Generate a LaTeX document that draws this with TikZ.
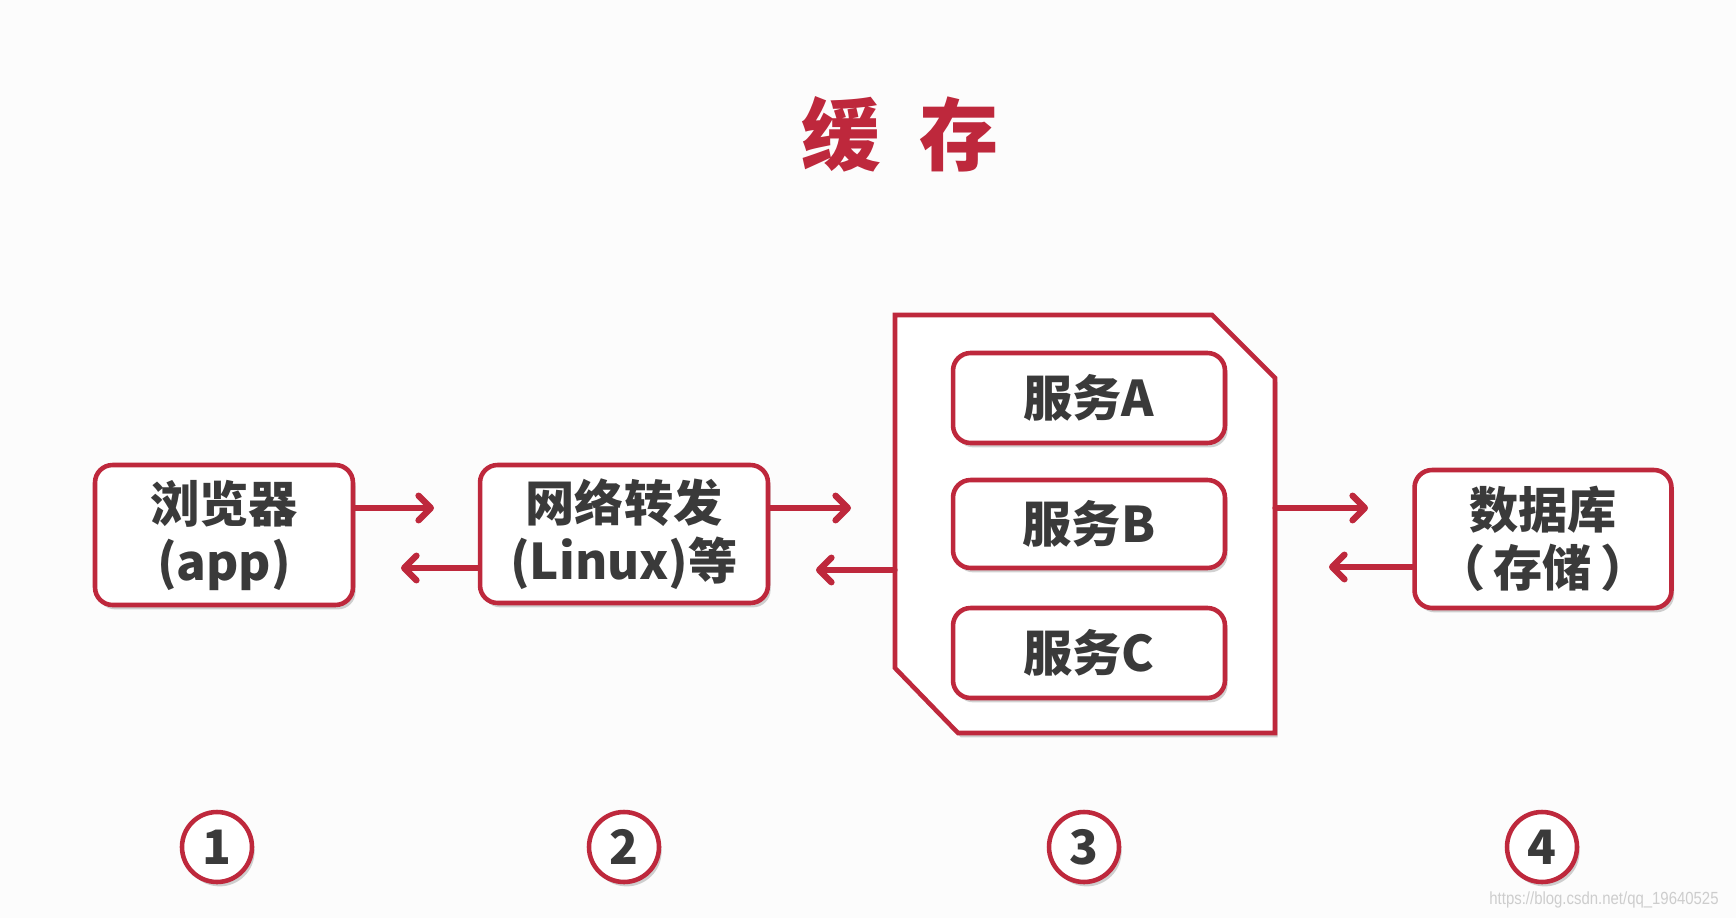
\documentclass[tikz,border=0pt]{standalone}
\usepackage{fontspec}
\newfontfamily\cjk{Noto Sans CJK SC}
\setmainfont{Liberation Sans}
\usetikzlibrary{arrows.meta,shadows}

\definecolor{cacheRed}{RGB}{190,40,60}
\definecolor{inkGray}{RGB}{58,58,58}
\definecolor{pageGray}{RGB}{252,252,252}
\definecolor{wmGray}{RGB}{205,205,205}

\tikzset{
  softshadow/.style={drop shadow={shadow xshift=1.5pt,shadow yshift=-2.5pt,opacity=.18,fill=black}},
  box/.style={draw=cacheRed,line width=2.6pt,rounded corners=10pt,fill=white,softshadow,
    text=inkGray,font=\cjk\bfseries\fontsize{28}{33}\selectfont,align=center,inner sep=0pt},
  numring/.style={circle,draw=cacheRed,line width=2.6pt,fill=white,softshadow,minimum size=1.4cm,
    inner sep=0pt,text=inkGray,font=\cjk\bfseries\fontsize{27}{27}\selectfont},
  arr/.style={draw=cacheRed,line width=3pt,line cap=round,
    -{Straight Barb[length=7pt,width=14pt,line width=3.6pt,line cap=round,line join=round]}},
}

\begin{document}
\begin{tikzpicture}[x=0.02cm,y=-0.02cm]

% page
\fill[pageGray] (0,0) rectangle (1736,918);
\useasboundingbox (0,0) rectangle (1736,918);

% title
\node[text=cacheRed,font=\cjk\bfseries\fontsize{45}{45}\selectfont] (title) at (900,134) {缓\hspace{0.5em}存};

% definitions
\coordinate (cA) at (895,315);
\coordinate (cB) at (1212,315);
\coordinate (cC) at (1275,378);
\coordinate (cD) at (1275,733);
\coordinate (cE) at (958,733);
\coordinate (cF) at (895,668);

\filldraw[draw=cacheRed,line width=2.6pt,fill=white,softshadow]
  (cA) -- (cB) -- (cC) -- (cD) -- (cE) -- (cF) -- cycle;

\node[box,minimum width=5.16cm,minimum height=2.8cm] (browser) at (224,535) {浏览器\\(app)};
\node[box,minimum width=5.76cm,minimum height=2.76cm] (net) at (624,534) {网络转发\\(Linux)等};
\node[box,minimum width=5.14cm,minimum height=2.76cm] (db) at (1543,539) {数据库\\（\,存储\,）};

\node[box,minimum width=5.44cm,minimum height=1.8cm] (svcA) at (1089,398) {服务A};
\node[box,minimum width=5.44cm,minimum height=1.76cm] (svcB) at (1089,524) {服务B};
\node[box,minimum width=5.44cm,minimum height=1.8cm] (svcC) at (1089,653) {服务C};

% arrows
\coordinate (t1) at (434,508);
\coordinate (t2) at (401,568);
\coordinate (t3) at (851,508);
\coordinate (t4) at (816,570);
\coordinate (t5) at (1368,508);
\coordinate (t6) at (1329,567);

\draw[arr] (browser.east |- t1) -- (t1);
\draw[arr] (net.west |- t2) -- (t2);
\draw[arr] (net.east |- t3) -- (t3);
\draw[arr] (cA |- t4) -- (t4);
\draw[arr] (cC |- t5) -- (t5);
\draw[arr] (db.west |- t6) -- (t6);

% labels
\node[numring] (n1) at (217,847) {1};
\node[numring] (n2) at (624,847) {2};
\node[numring] (n3) at (1084,847) {3};
\node[numring] (n4) at (1542,847) {4};

\node[text=wmGray,font=\fontsize{10}{10}\selectfont,xscale=.85] (wm) at (1604,900) {https://blog.csdn.net/qq\_19640525};
\end{tikzpicture}
\end{document}
